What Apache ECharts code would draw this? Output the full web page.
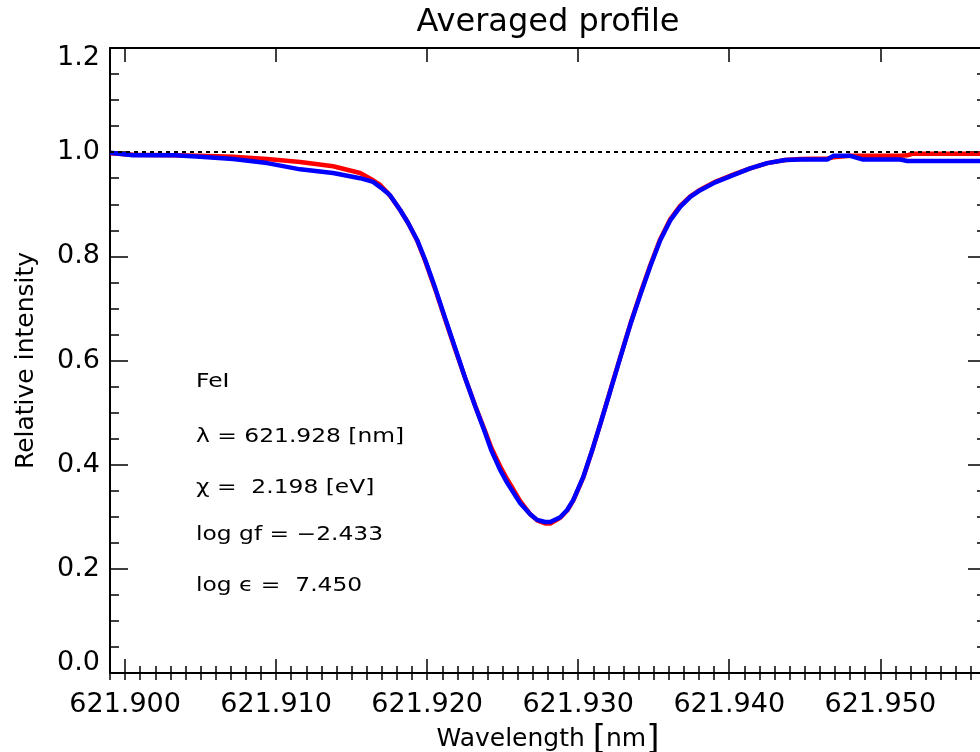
<!DOCTYPE html>
<html>
<head>
<meta charset="utf-8">
<script src="https://cdn.jsdelivr.net/npm/echarts@6/dist/echarts.min.js"></script>
<style>
html,body{margin:0;padding:0;background:#fff;}
#chart{width:980px;height:752px;}
</style>
</head>
<body>
<div id="chart"></div>
<script>
// Wavelength sample points [nm]
const wavelengths = [
  621.89901, 621.90053, 621.90331, 621.90497, 621.90715, 621.90940, 621.91159, 621.91377,
  621.91556, 621.91642, 621.91689, 621.91735, 621.91755, 621.91821, 621.91874, 621.91934,
  621.91987, 621.92053, 621.92119, 621.92185, 621.92252, 621.92318, 621.92384, 621.92424,
  621.92483, 621.92530, 621.92616, 621.92682, 621.92728, 621.92781, 621.92815, 621.92881,
  621.92927, 621.92967, 621.93033, 621.93093, 621.93146, 621.93212, 621.93278, 621.93344,
  621.93411, 621.93477, 621.93543, 621.93609, 621.93675, 621.93742, 621.93808, 621.93907,
  621.94026, 621.94139, 621.94252, 621.94371, 621.94470, 621.94649, 621.94689, 621.94801,
  621.94881, 621.95132, 621.95179, 621.95212, 621.95700
];
// Red profile (relative intensity)
const redProfile = [
  0.998, 0.995, 0.994, 0.993, 0.991, 0.987, 0.981, 0.973,
  0.960, 0.946, 0.937, 0.923, 0.916, 0.889, 0.864, 0.830,
  0.791, 0.737, 0.679, 0.622, 0.566, 0.513, 0.464, 0.433,
  0.397, 0.372, 0.330, 0.305, 0.293, 0.287, 0.287, 0.298,
  0.312, 0.331, 0.375, 0.428, 0.478, 0.542, 0.606, 0.669,
  0.728, 0.783, 0.833, 0.871, 0.897, 0.915, 0.928, 0.943,
  0.957, 0.969, 0.979, 0.985, 0.987, 0.988, 0.990, 0.993,
  0.993, 0.993, 0.994, 0.997, 0.997
];
// Blue profile (relative intensity)
const blueProfile = [
  0.999, 0.994, 0.994, 0.991, 0.987, 0.979, 0.967, 0.960,
  0.950, 0.943, 0.933, 0.922, 0.917, 0.889, 0.864, 0.831,
  0.793, 0.739, 0.681, 0.624, 0.566, 0.512, 0.461, 0.428,
  0.390, 0.365, 0.326, 0.305, 0.294, 0.290, 0.290, 0.299,
  0.313, 0.332, 0.376, 0.428, 0.478, 0.541, 0.605, 0.668,
  0.726, 0.781, 0.831, 0.869, 0.895, 0.914, 0.927, 0.942,
  0.956, 0.969, 0.979, 0.985, 0.986, 0.986, 0.993, 0.993,
  0.986, 0.986, 0.983, 0.983, 0.983
];
const continuumLevel = 1.0;
const xMajorTicks = [621.900, 621.910, 621.920, 621.930, 621.940, 621.950];
const xMin = 621.899, xMax = 621.957;
const yTicks = [0.0, 0.2, 0.4, 0.6, 0.8, 1.0, 1.2];
const annotations = ['FeI', 'λ = 621.928 [nm]', 'χ =  2.198 [eV]', 'log gf = −2.433', 'log ϵ =  7.450'];
const titleText = 'Averaged profile';

const xMinorTicks = [];
for (let i = 0; i <= Math.round((xMax - xMin) * 1000); i++) xMinorTicks.push((621899 + i) / 1000);

const FONT = 'DejaVu Sans';
const black = '#000';

const chart = echarts.init(document.getElementById('chart'), null, {renderer: 'canvas'});

const redData = wavelengths.map((w, i) => [w, redProfile[i]]);
const blueData = wavelengths.map((w, i) => [w, blueProfile[i]]);

function xAxisBase(pos) {
  return {
    type: 'value', position: pos, min: xMin, max: xMax,
    splitLine: {show: false},
    axisLine: {show: true, onZero: false, lineStyle: {color: black, width: 2}},
  };
}

const option = {
  animation: false,
  backgroundColor: '#fff',
  title: {
    text: titleText, left: 548, textAlign: 'center', top: 7, padding: 0,
    textStyle: {fontFamily: FONT, fontSize: 32, fontWeight: 'normal', color: black}
  },
  grid: {left: 110, top: 48, width: 876, height: 625, containLabel: false, outerBoundsMode: 'none'},
  xAxis: [
    Object.assign(xAxisBase('bottom'), {
      axisTick: {show: true, inside: true, length: 14, customValues: xMajorTicks, lineStyle: {color: black, width: 1.5}},
      axisLabel: {show: true, customValues: xMajorTicks, formatter: v => Number(v).toFixed(3),
        fontFamily: FONT, fontSize: 27, color: black, margin: 18},
      name: '{a|Wavelength }{b|[}{a|nm}{b|]}',
      nameLocation: 'middle', nameGap: 49,
      nameTextStyle: {rich: {
        a: {fontFamily: FONT, fontSize: 25, color: black},
        b: {fontFamily: FONT, fontSize: 34, color: black}
      }}
    }),
    Object.assign(xAxisBase('bottom'), {
      axisLine: {show: false},
      axisTick: {show: true, inside: true, length: 7, customValues: xMinorTicks, lineStyle: {color: black, width: 1.5}},
      axisLabel: {show: false}
    }),
    Object.assign(xAxisBase('top'), {
      axisTick: {show: true, inside: true, length: 14, customValues: xMajorTicks, lineStyle: {color: black, width: 1.5}},
      axisLabel: {show: false}
    }),
    Object.assign(xAxisBase('top'), {
      axisLine: {show: false},
      axisTick: {show: true, inside: true, length: 7, customValues: xMinorTicks, lineStyle: {color: black, width: 1.5}},
      axisLabel: {show: false}
    })
  ],
  yAxis: [
    {
      type: 'value', position: 'left', min: yTicks[0], max: yTicks[yTicks.length - 1], interval: 0.2,
      splitLine: {show: false},
      axisLine: {show: true, onZero: false, lineStyle: {color: black, width: 2}},
      axisTick: {show: true, inside: true, length: 18, lineStyle: {color: black, width: 1.5}},
      minorTick: {show: true, splitNumber: 4, length: 9, lineStyle: {color: black, width: 1.5}},
      axisLabel: {
        show: true, margin: 10, fontFamily: FONT, fontSize: 27, color: black,
        formatter: v => {
          const s = Number(v).toFixed(1);
          if (Math.abs(v) < 1e-9) return '{lo|' + s + '}';
          if (Math.abs(v - 1.2) < 1e-9) return '{hi|' + s + '}';
          return s;
        },
        rich: {
          lo: {fontFamily: FONT, fontSize: 27, color: black, padding: [0, 0, 20, 0]},
          hi: {fontFamily: FONT, fontSize: 27, color: black, padding: [20, 0, 0, 0]}
        }
      },
      name: 'Relative intensity', nameLocation: 'middle', nameGap: 71,
      nameTextStyle: {fontFamily: FONT, fontSize: 25, color: black}
    },
    {
      type: 'value', position: 'right', min: yTicks[0], max: yTicks[yTicks.length - 1], interval: 0.2,
      splitLine: {show: false},
      axisLine: {show: true, onZero: false, lineStyle: {color: black, width: 2}},
      axisTick: {show: true, inside: true, length: 18, lineStyle: {color: black, width: 1.5}},
      minorTick: {show: true, splitNumber: 4, length: 9, lineStyle: {color: black, width: 1.5}},
      axisLabel: {show: false}
    }
  ],
  series: [
    {
      name: 'red', type: 'line', xAxisIndex: 0, yAxisIndex: 0, data: redData,
      showSymbol: false, symbol: 'none', smooth: false, z: 2,
      lineStyle: {color: '#ff0000', width: 4.5},
      markLine: {
        silent: true, symbol: ['none', 'none'], label: {show: false},
        lineStyle: {color: black, width: 2, type: [4, 4]},
        data: [{yAxis: continuumLevel}]
      }
    },
    {
      name: 'blue', type: 'line', xAxisIndex: 0, yAxisIndex: 0, data: blueData,
      showSymbol: false, symbol: 'none', smooth: false, z: 3,
      lineStyle: {color: '#0000ff', width: 4.5}
    }
  ],
  graphic: annotations.map((t, i) => ({
    type: 'text', x: 196, y: [382, 437, 488, 535, 586][i], scaleX: 1.23,
    style: {text: t, fontFamily: FONT, fontSize: 19, fill: black, align: 'left', verticalAlign: 'middle'}
  }))
};

chart.setOption(option);
</script>
</body>
</html>
